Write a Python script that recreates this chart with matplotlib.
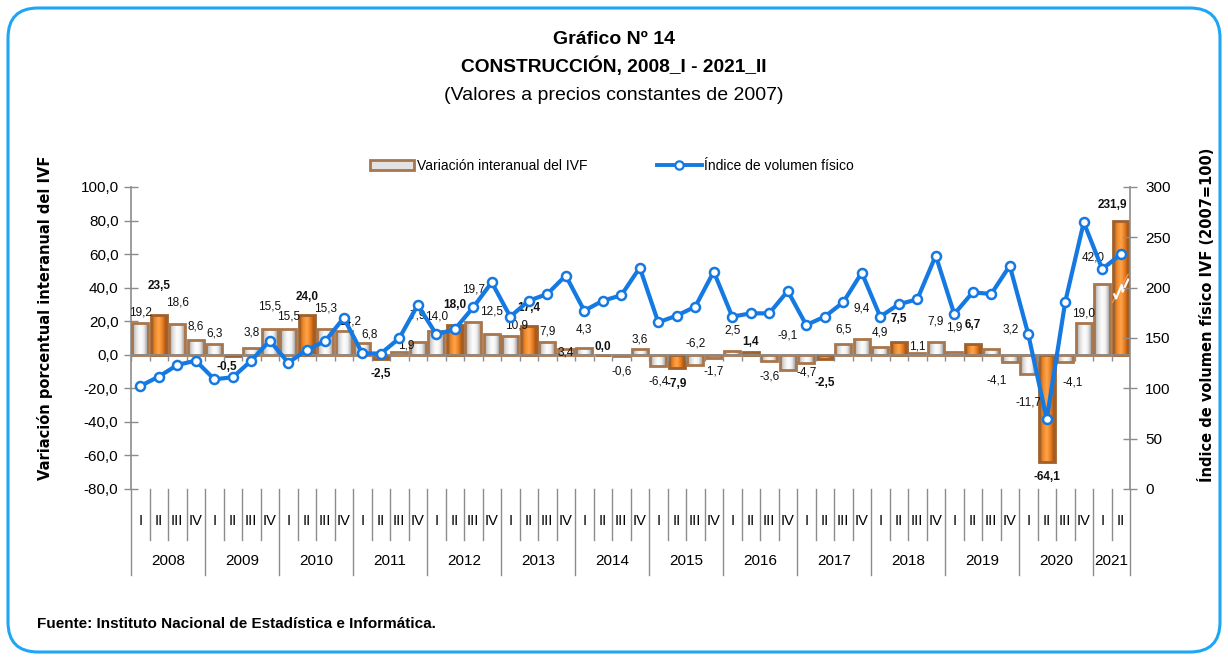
import numpy as np
import matplotlib
matplotlib.use("Agg")
import matplotlib.pyplot as plt
from matplotlib import font_manager
from matplotlib.colors import LinearSegmentedColormap
from matplotlib.patches import FancyBboxPatch, Patch
from matplotlib.lines import Line2D
from matplotlib.ticker import FuncFormatter, MultipleLocator
from matplotlib.transforms import IdentityTransform

years = ["2008", "2009", "2010", "2011", "2012", "2013", "2014",
         "2015", "2016", "2017", "2018", "2019", "2020", "2021"]
quarters = ["I", "II", "III", "IV"]

# variacion interanual del IVF (%), 2008_I .. 2021_II
variacion = [
    19.2, 23.5, 18.6, 8.6,
    6.3, -0.5, 3.8, 15.5,
    15.5, 24.0, 15.3, 14.2,
    6.8, -2.5, 1.9, 7.9,
    14.0, 18.0, 19.7, 12.5,
    10.9, 17.4, 7.9, 3.4,
    4.3, 0.0, -0.6, 3.6,
    -6.4, -7.9, -6.2, -1.7,
    2.5, 1.4, -3.6, -9.1,
    -4.7, -2.5, 6.5, 9.4,
    4.9, 7.5, 1.1, 7.9,
    1.9, 6.7, 3.2, -4.1,
    -11.7, -64.1, -4.1, 19.0,
    42.0, 231.9,
]

# indice de volumen fisico (2007=100)
ivf = [
    102.3, 111.6, 123.2, 127.5,
    109.0, 111.0, 127.5, 147.3,
    125.5, 138.0, 147.0, 170.0,
    134.8, 134.5, 149.7, 182.8,
    153.7, 158.6, 180.5, 205.3,
    171.2, 187.0, 193.7, 212.0,
    177.1, 187.0, 192.4, 219.9,
    165.6, 172.2, 181.1, 215.9,
    171.2, 174.5, 174.5, 196.7,
    162.9, 171.2, 185.5, 214.9,
    171.2, 183.5, 188.4, 231.8,
    173.8, 195.4, 193.7, 221.8,
    153.7, 69.2, 186.0, 264.9,
    218.5, 233.1,
]

BAR_CAP = 80.0  # the 2021_II bar is cut at this height (axis break)

# label placement (pixels from bar end to label centre, + is up), as moved by hand in the original
label_dy = [
    10, 29, 21, 14, 11, -11, 16, 22,
    12, 18, 21, 9, 9, -15, 6, 26,
    15, 20, 32, 22, 11, 18, 10, -3,
    18, 8, -16, 9, -16, -16, 22, -14,
    20, 10, -16, 35, -10, -24, 14, 31,
    14, 23, 6, 20, 24, 19, 20, -19,
    -28, -15, -21, 9, 27, 16,
]
label_dx = {5: -6, 11: 6, 12: 7, 14: 7, 20: 6, 46: 19, 47: -13, 50: 7,
            52: -9, 53: -8}


def pick_font(*names):
    for nm in names:
        try:
            font_manager.findfont(nm, fallback_to_default=False)
            return [nm, "DejaVu Sans"]
        except Exception:
            pass
    return ["DejaVu Sans"]


NARROW = pick_font("Liberation Sans Narrow", "Liberation Sans")
ARIAL = pick_font("Liberation Sans")

W, H = 1228, 659
fig = plt.figure(figsize=(W / 100, H / 100), dpi=100)

# rounded frame
frame = FancyBboxPatch((8, 7), 1212, 644, boxstyle="round,pad=0,rounding_size=30",
                       transform=IdentityTransform(), facecolor="white",
                       edgecolor="#1ea6f6", linewidth=2.2, zorder=0)
fig.patches.append(frame)

ax = fig.add_axes([131 / W, 1 - 489 / H, 999 / W, 302 / H])
ax2 = ax.twinx()
ax.set_zorder(1)
ax2.set_zorder(2)
ax.patch.set_visible(False)
ax2.patch.set_visible(False)

n = len(variacion)
x = np.arange(n)
q_idx = np.arange(n) % 4
shown = np.minimum(np.array(variacion), BAR_CAP)

white_cmap = LinearSegmentedColormap.from_list(
    "w", ["#a0a0a0", "#dedede", "#ffffff", "#eeeeee", "#959595"])
orange_cmap = LinearSegmentedColormap.from_list(
    "o", ["#a94f0c", "#ef8a2a", "#ffa54d", "#e67a1c", "#9a480b"])
grad = np.linspace(0, 1, 64).reshape(1, -1)

bars = ax.bar(x, shown, width=0.86, facecolor="none", edgecolor="#a8764c",
              linewidth=2.0, zorder=3)
for i, b in enumerate(bars):
    cmap = orange_cmap if q_idx[i] == 1 else white_cmap
    if q_idx[i] == 1:
        b.set_edgecolor("#a0602c")
    bx, by, bw, bh = b.get_x(), b.get_y(), b.get_width(), b.get_height()
    if bh == 0:
        continue
    im = ax.imshow(grad, cmap=cmap, extent=(bx, bx + bw, by, by + bh),
                   aspect="auto", interpolation="bicubic", zorder=2.5)
    im.set_clip_path(b)

# axis-break mark on the cut bar
cut = np.argmax(np.array(variacion) > BAR_CAP)
ax.plot([cut + 0.4, cut + 0.1, cut + 0.05, cut - 0.25, cut - 0.35],
        [BAR_CAP * 0.56, BAR_CAP * 0.47, BAR_CAP * 0.52, BAR_CAP * 0.42, BAR_CAP * 0.45],
        color="white", lw=1.6, zorder=4)
ax.plot([cut + 0.4, cut - 0.45], [BAR_CAP * 0.6, BAR_CAP * 0.39],
        color="#f0a060", lw=0.8, zorder=3.9)

# data labels
for i, v in enumerate(variacion):
    bold = q_idx[i] == 1
    txt = f"{v:.1f}".replace(".", ",")
    dx = label_dx.get(i, 0) * 0.72
    dy = label_dy[i] * 0.72
    ax.annotate(txt, (i, shown[i]), xytext=(dx, dy), textcoords="offset points",
                ha="center", va="center", fontsize=8.5, family=NARROW,
                fontweight="bold" if bold else "normal", color="#111111",
                zorder=5, annotation_clip=False)

# zero line with quarter ticks
ax.axhline(0, color="#8c8c8c", lw=1.2, zorder=3.5)
ax.vlines(np.arange(n + 1) - 0.5, 0, -4, color="#8c8c8c", lw=1, zorder=3.5)

ax.set_xlim(-0.5, n - 0.5)
ax.set_ylim(-80, 100)
ax.yaxis.set_major_locator(MultipleLocator(20))
ax.yaxis.set_major_formatter(FuncFormatter(lambda v, p: f"{v:.1f}".replace(".", ",")))
ax.set_xticks([])
for s in ["top", "right", "bottom"]:
    ax.spines[s].set_visible(False)
ax.spines["left"].set_color("#8c8c8c")
ax.spines["left"].set_linewidth(1.2)
ax.tick_params(axis="y", direction="inout", length=10, width=1, color="#8c8c8c",
               labelsize=11, pad=4)
for lab in ax.get_yticklabels():
    lab.set_family(NARROW)

ax2.plot(x, ivf, color="#1479e2", lw=3, marker="o", ms=6.5,
         markerfacecolor="white", markeredgecolor="#1479e2", markeredgewidth=1.8,
         zorder=6, clip_on=False)
ax2.set_ylim(0, 300)
ax2.yaxis.set_major_locator(MultipleLocator(50))
for s in ["top", "left", "bottom"]:
    ax2.spines[s].set_visible(False)
ax2.spines["right"].set_color("#8c8c8c")
ax2.spines["right"].set_linewidth(1.2)
ax2.tick_params(axis="y", direction="inout", length=10, width=1, color="#8c8c8c",
                labelsize=11, pad=6)
for lab in ax2.get_yticklabels():
    lab.set_family(NARROW)

# category axis: quarters and years
tr = ax.get_xaxis_transform()
for i in range(n):
    ax.text(i, -0.106, quarters[q_idx[i]], transform=tr, ha="center", va="center",
            fontsize=10.5, family=NARROW, clip_on=False)
for b in range(n + 1):
    edge = b - 0.5
    is_year = b % 4 == 0 or b == n
    ax.plot([edge, edge], [0, -0.285 if is_year else -0.169], transform=tr,
            color="#8c8c8c", lw=1, clip_on=False)
for k, yr in enumerate(years):
    first = 4 * k
    last = min(4 * k + 3, n - 1)
    ax.text((first + last) / 2, -0.238, yr, transform=tr, ha="center", va="center",
            fontsize=11, family=NARROW, clip_on=False)

# titles
fig.text(0.5, 1 - 40 / H, "Gráfico Nº 14", ha="center", va="center",
         fontsize=14, fontweight="bold", family=ARIAL)
fig.text(0.5, 1 - 66 / H, "CONSTRUCCIÓN, 2008_I - 2021_II", ha="center", va="center",
         fontsize=13.8, fontweight="bold", family=ARIAL)
fig.text(0.5, 1 - 95 / H, "(Valores a precios constantes de 2007)", ha="center",
         va="center", fontsize=14, family=ARIAL)

fig.text(45 / W, 1 - 318 / H, "Variación porcentual interanual del IVF", rotation=90,
         ha="center", va="center", fontsize=10.5, fontweight="bold", family="DejaVu Sans")
fig.text(1207 / W, 1 - 315 / H, "Índice de volumen físico IVF (2007=100)", rotation=90,
         ha="center", va="center", fontsize=10.5, fontweight="bold", family="DejaVu Sans")

fig.text(37 / W, 1 - 624 / H, "Fuente: Instituto Nacional de Estadística e Informática.",
         ha="left", va="center", fontsize=11, fontweight="bold", family=ARIAL)

handles = [
    Patch(facecolor="#e2e2e2", edgecolor="#a8764c", linewidth=2),
    Line2D([0], [0], color="#1479e2", lw=2.8, marker="o", ms=6,
           markerfacecolor="white", markeredgewidth=1.6),
]
leg = fig.legend(handles, ["Variación interanual del IVF", "Índice de volumen físico"],
                 loc="center", bbox_to_anchor=(612 / W, 1 - 166 / H), ncol=2,
                 frameon=False, prop={"family": NARROW, "size": 10},
                 columnspacing=5.0, handlelength=3.2, handletextpad=0.2)

fig.savefig("out.png", dpi=100)
